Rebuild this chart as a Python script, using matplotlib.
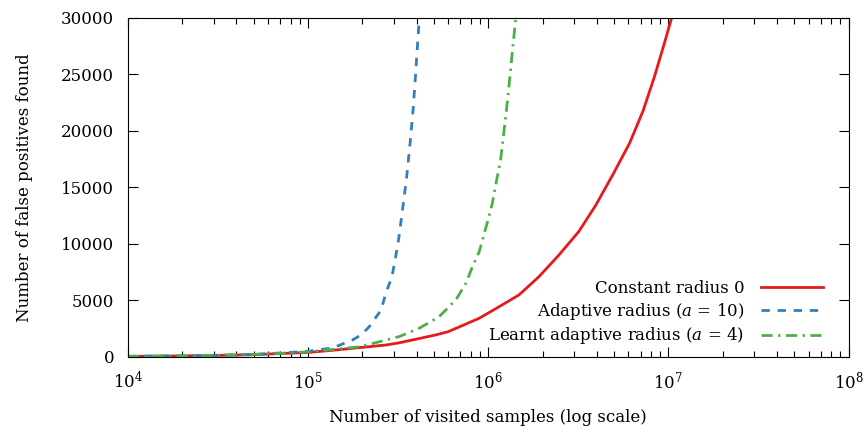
import numpy as np
import matplotlib
matplotlib.use("Agg")
import matplotlib.pyplot as plt
from matplotlib.ticker import LogLocator, NullFormatter

plt.rcParams['font.family'] = ['DejaVu Serif']
plt.rcParams['mathtext.fontset'] = 'custom'
plt.rcParams['mathtext.rm'] = 'DejaVu Serif'
plt.rcParams['mathtext.it'] = 'DejaVu Serif:italic'

# constant radius 0
const_x = [1e4, 2e4, 3e4, 5e4, 7e4, 1e5, 1.43e5, 2.71e5, 3.2e5, 5.11e5, 6e5,
           7e5, 8.89e5, 1.15e6, 1.48e6, 1.91e6, 2.47e6, 3.18e6, 3.94e6,
           4.94e6, 6.08e6, 7.24e6, 8.36e6, 9.47e6, 1.05e7, 1.1e7]
const_y = [50, 90, 130, 200, 300, 400, 620, 1060, 1250, 1950, 2240,
           2700, 3420, 4450, 5490, 7100, 9030, 11100, 13400,
           16200, 18900, 21800, 24800, 27700, 30200, 31500]

# adaptive radius a=10
adapt_x = [1e4, 2e4, 3e4, 5e4, 7e4, 1e5, 1.37e5, 1.76e5, 1.97e5, 2.19e5,
           2.54e5, 2.7e5, 2.92e5, 3.16e5, 3.34e5, 3.52e5, 3.68e5, 3.82e5,
           3.94e5, 4.14e5, 4.2e5]
adapt_y = [60, 100, 140, 230, 350, 500, 800, 1500, 1950, 2700,
           4150, 5650, 7100, 10100, 13000, 15900, 18900, 21800,
           24800, 30000, 31500]

# learnt adaptive radius a=4
learnt_x = [1e4, 2e4, 3e4, 5e4, 7e4, 1e5, 1.93e5, 2.71e5, 3.2e5, 4.14e5,
            5.34e5, 6.6e5, 7.51e5, 8.17e5, 8.9e5, 9.46e5, 1.05e6,
            1.12e6, 1.17e6, 1.26e6, 1.29e6, 1.42e6, 1.45e6]
learnt_y = [55, 100, 140, 220, 320, 450, 900, 1500, 1800, 2540,
            3570, 5040, 6520, 8000, 9300, 10800, 13500,
            15900, 17400, 21800, 23300, 30000, 31500]

fig = plt.figure(figsize=(8.65, 4.28), dpi=100)
ax = fig.add_axes([0.148, 0.166, 0.833, 0.792])

ax.plot(const_x, const_y, color='#e41a1c', lw=2.0, label='Constant radius 0')
ax.plot(adapt_x, adapt_y, color='#377eb8', lw=2.0, dashes=(3, 2.8),
        label='Adaptive radius ($a$ = 10)')
ax.plot(learnt_x, learnt_y, color='#4daf4a', lw=2.0, dashes=(4, 2, 0.8, 2),
        label='Learnt adaptive radius ($a$ = 4)')

ax.set_xscale('log')
ax.set_xlim(1e4, 1e8)
ax.set_ylim(0, 30000)
ax.set_yticks(np.arange(0, 30001, 5000))
ax.xaxis.set_minor_locator(LogLocator(base=10, subs=np.arange(2, 10)))
ax.xaxis.set_minor_formatter(NullFormatter())

ax.tick_params(which='both', direction='in', top=True, right=True, labelsize=12)
ax.tick_params(which='major', length=7, width=0.8, pad=10)
ax.tick_params(which='minor', length=4, width=0.8)
ax.tick_params(axis='x', which='major', pad=10)

ax.set_xlabel('Number of visited samples (log scale)', fontsize=12, labelpad=12)
ax.set_ylabel('Number of false positives found', fontsize=12, labelpad=20)

ax.legend(loc='lower right', markerfirst=False, frameon=False, fontsize=12,
          handlelength=3.7, handletextpad=1.0, labelspacing=0.22,
          bbox_to_anchor=(0.985, -0.013))

fig.savefig('out.png', dpi=100)
